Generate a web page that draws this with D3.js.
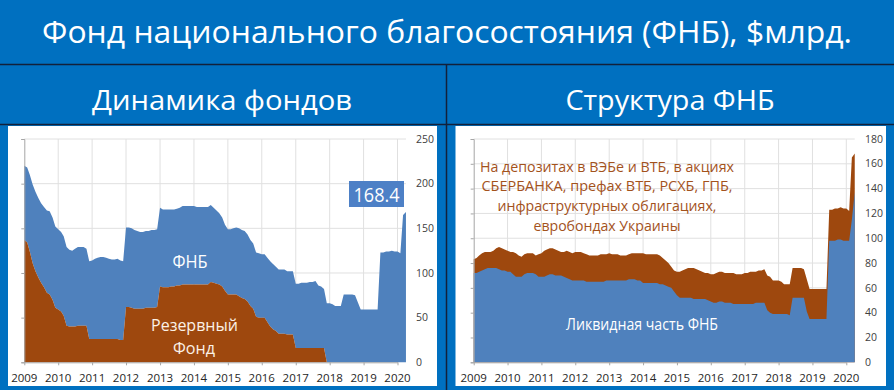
<!DOCTYPE html>
<html>
<head>
<meta charset="utf-8">
<script src="https://cdn.jsdelivr.net/npm/d3@7"></script>
<style>
  body { margin: 0; background: #0070c0; }
  svg text { font-family: "Open Sans", "Noto Sans", sans-serif; }
</style>
</head>
<body>
<svg id="chart" width="894" height="390"></svg>
<script>
// monthly values, Jan 2009 .. Apr 2020
const yearTicks = [2009, 2010, 2011, 2012, 2013, 2014, 2015, 2016, 2017, 2018, 2019, 2020];
const leftTicks = [0, 50, 100, 150, 200, 250];
const rightTicks = [0, 20, 40, 60, 80, 100, 120, 140, 160, 180];

// Фонд национального благосостояния, $ млрд
const nwf = [
  83, 84, 86, 88, 89, 89, 89, 90, 92, 93, 92, 91,
  90, 89, 89, 88, 86, 85, 87, 88, 88, 88, 86, 87,
  88, 90, 91, 92, 92, 91, 90, 89, 89, 90, 89, 88,
  89, 89, 89, 88, 87, 86, 86, 86, 86, 87, 87, 87,
  88, 87, 87, 87, 86, 86, 86, 87, 88, 88, 88, 88,
  88, 87, 87, 87, 87, 87, 86, 84, 82, 80, 77, 74,
  73, 73, 74, 75, 76, 76, 76, 75, 74, 73, 72, 72,
  71, 71, 72, 73, 73, 72, 72, 72, 72, 71, 71, 71,
  72, 72, 73, 73, 73, 74, 74, 75, 70, 69, 66, 66,
  66, 65, 63, 63, 63, 76, 76, 76, 76, 75, 67, 59,
  59, 59, 59, 59, 59, 59, 123, 123, 124, 124, 125, 124,
  124, 122, 165, 168.4
];

// ликвидная часть ФНБ
const liquid = [
  72, 72, 73, 74, 75, 76, 76, 76, 76, 75, 74, 74,
  73, 73, 71, 69, 69, 69, 71, 72, 72, 72, 71, 69,
  69, 69, 70, 71, 71, 70, 70, 70, 69, 68, 67, 66,
  66, 66, 66, 66, 65, 65, 65, 65, 65, 65, 65, 66,
  66, 66, 66, 66, 66, 66, 66, 67, 67, 67, 66, 66,
  64, 64, 64, 64, 64, 64, 63, 63, 62, 61, 60, 57,
  54, 52, 52, 52, 52, 52, 51, 51, 51, 51, 51, 50,
  49, 48, 48, 49, 49, 48, 48, 48, 47, 47, 47, 47,
  47, 47, 47, 47, 48, 48, 48, 48, 42, 40, 39, 39,
  39, 39, 39, 39, 38, 52, 52, 52, 52, 52, 41, 35,
  35, 35, 35, 35, 35, 35, 98, 98, 98, 99, 99, 98,
  98, 98, 115, 137
];

// Резервный фонд
const reserveFund = [
  137, 134, 124, 111, 102, 95, 89, 84, 78, 76, 70, 61,
  59, 57, 52, 41, 40, 40, 40, 41, 41, 41, 41, 26,
  26, 26, 26, 26, 26, 26, 26, 26, 26, 26, 25, 25,
  62, 62, 61, 60, 60, 60, 60, 61, 61, 61, 61, 62,
  85, 84, 84, 84, 85, 85, 86, 86, 87, 87, 87, 87,
  87, 87, 87, 87, 87, 87, 90, 89, 88, 87, 85, 80,
  76, 76, 76, 76, 74, 72, 71, 68, 63, 60, 51, 50,
  50, 50, 45, 40, 37, 35, 32, 32, 32, 31, 31, 31,
  16, 16, 16, 16, 16, 16, 16, 16, 16, 16, 16, 0,
  0, 0, 0, 0, 0, 0, 0, 0, 0, 0, 0, 0,
  0, 0, 0, 0, 0, 0, 0, 0, 0, 0, 0, 0,
  0, 0, 0, 0
];

const months = d3.timeMonth.range(new Date(2009, 0, 1), new Date(2020, 4, 1));
const rows = months.map((d, i) => ({
  date: d, rf: reserveFund[i], nwf: nwf[i], liquid: liquid[i]
}));

const BLUE = '#4f81bd';
const BROWN = '#9e480e';
const svg = d3.select('#chart');

// header
svg.append('rect').attr('width', 894).attr('height', 390).attr('fill', '#0070c0');
svg.append('text')
  .attr('x', 447).attr('y', 43)
  .attr('text-anchor', 'middle')
  .attr('fill', '#fff')
  .style('font-size', '31px')
  .attr('textLength', 810).attr('lengthAdjust', 'spacingAndGlyphs')
  .text('Фонд национального благосостояния (ФНБ), $млрд.');

svg.append('text')
  .attr('x', 222).attr('y', 110)
  .attr('text-anchor', 'middle').attr('fill', '#fff')
  .style('font-size', '28px')
  .attr('textLength', 260).attr('lengthAdjust', 'spacingAndGlyphs')
  .text('Динамика фондов');
svg.append('text')
  .attr('x', 670).attr('y', 110)
  .attr('text-anchor', 'middle').attr('fill', '#fff')
  .style('font-size', '28px')
  .attr('textLength', 209).attr('lengthAdjust', 'spacingAndGlyphs')
  .text('Структура ФНБ');

// panels
svg.append('rect').attr('x', 8).attr('y', 126).attr('width', 429).attr('height', 260).attr('fill', '#fff');
svg.append('rect').attr('x', 455.5).attr('y', 126).attr('width', 430.5).attr('height', 260).attr('fill', '#fff');

// separator lines
svg.append('line').attr('x1', 0).attr('x2', 894).attr('y1', 64.5).attr('y2', 64.5)
  .attr('stroke', '#13203a').attr('stroke-width', 1.5);
svg.append('line').attr('x1', 0).attr('x2', 894).attr('y1', 124.5).attr('y2', 124.5)
  .attr('stroke', '#13203a').attr('stroke-width', 1.5);
svg.append('line').attr('x1', 446.5).attr('x2', 446.5).attr('y1', 64.5).attr('y2', 390)
  .attr('stroke', '#13203a').attr('stroke-width', 1.5);

function makeFrame(g, x, y, ticks, labelX) {
  const [x0, x1] = [x(months[0]), x(months[months.length - 1])];
  const [y0, y1] = y.range();

  g.append('g').selectAll('line.h').data(ticks.slice(1)).enter()
    .append('line')
    .attr('x1', x0).attr('x2', x1)
    .attr('y1', d => y(d)).attr('y2', d => y(d))
    .attr('stroke', '#e0e0e0').attr('stroke-width', 1);
  g.append('g').selectAll('line.v').data(yearTicks.slice(1)).enter()
    .append('line')
    .attr('x1', d => x(new Date(d, 0, 1))).attr('x2', d => x(new Date(d, 0, 1)))
    .attr('y1', y1).attr('y2', y0)
    .attr('stroke', '#e0e0e0').attr('stroke-width', 1);

  g.append('g').selectAll('text').data(ticks).enter()
    .append('text')
    .attr('x', labelX).attr('y', d => y(d)).attr('dy', '0.35em')
    .attr('fill', '#404040').style('font-size', '10.5px')
    .text(d => d);

  g.append('g').selectAll('text').data(yearTicks).enter()
    .append('text')
    .attr('x', d => x(new Date(d, 0, 1))).attr('y', 382)
    .attr('text-anchor', 'middle')
    .attr('fill', '#262626').style('font-size', '11.5px')
    .text(d => d);
}

function drawAxes(g, x, y, ticks) {
  const x0 = x(months[0]);
  const [y0] = y.range();
  g.append('g')
    .attr('transform', `translate(${x0},0)`)
    .call(d3.axisLeft(y).tickValues(ticks).tickSize(3).tickFormat(''))
    .call(s => s.selectAll('path,line').attr('stroke', '#a6a6a6'));
  g.append('g')
    .attr('transform', `translate(0,${y0})`)
    .call(d3.axisBottom(x).tickValues(yearTicks.map(d => new Date(d, 0, 1)))
      .tickSize(3).tickSizeOuter(0).tickFormat(''))
    .call(s => s.selectAll('path,line').attr('stroke', '#a6a6a6'));
}

// ---------- left: Динамика фондов ----------
{
  const x = d3.scaleTime()
    .domain([new Date(2009, 0, 1), new Date(2020, 0, 1)])
    .range([24.3, 397.5]);
  const y = d3.scaleLinear().domain([0, 250]).range([362.3, 139]);
  const g = svg.append('g');
  makeFrame(g, x, y, leftTicks, 416);

  const stacked = d3.stack().keys(['rf', 'nwf'])(rows);
  const area = d3.area()
    .x(d => x(d.data.date))
    .y0(d => y(d[0]))
    .y1(d => y(d[1]));
  g.append('path').datum(stacked[1]).attr('d', area).attr('fill', BLUE);
  g.append('path').datum(stacked[0]).attr('d', area).attr('fill', BROWN);
  drawAxes(g, x, y, leftTicks);

  g.append('text').attr('x', 190).attr('y', 268).attr('text-anchor', 'middle')
    .attr('fill', '#fff').style('font-size', '18px')
    .attr('textLength', 35).attr('lengthAdjust', 'spacingAndGlyphs').text('ФНБ');
  g.append('text').attr('x', 194.5).attr('y', 331).attr('text-anchor', 'middle')
    .attr('fill', '#fbf1e6').style('font-size', '16.5px')
    .attr('textLength', 87).attr('lengthAdjust', 'spacingAndGlyphs').text('Резервный');
  g.append('text').attr('x', 194).attr('y', 354).attr('text-anchor', 'middle')
    .attr('fill', '#fbf1e6').style('font-size', '16.5px')
    .attr('textLength', 42).attr('lengthAdjust', 'spacingAndGlyphs').text('Фонд');

  const last = nwf[nwf.length - 1];
  g.append('rect').attr('x', 349).attr('y', 181).attr('width', 55).attr('height', 26)
    .attr('fill', '#4d80c6');
  g.append('text').attr('x', 376.5).attr('y', 201.5).attr('text-anchor', 'middle')
    .attr('fill', '#fff').style('font-size', '20px')
    .attr('textLength', 46).attr('lengthAdjust', 'spacingAndGlyphs')
    .text(d3.format('.1f')(last));
}

// ---------- right: Структура ФНБ ----------
{
  const x = d3.scaleTime()
    .domain([new Date(2009, 0, 1), new Date(2020, 0, 1)])
    .range([473.7, 846.3]);
  const y = d3.scaleLinear().domain([0, 180]).range([362.3, 139]);
  const g = svg.append('g');
  makeFrame(g, x, y, rightTicks, 865);

  const totalArea = d3.area().x(d => x(d.date)).y0(y(0)).y1(d => y(d.nwf));
  const liquidArea = d3.area().x(d => x(d.date)).y0(y(0)).y1(d => y(d.liquid));
  g.append('path').datum(rows).attr('d', totalArea).attr('fill', BROWN);
  g.append('path').datum(rows).attr('d', liquidArea).attr('fill', BLUE);
  drawAxes(g, x, y, rightTicks);

  const note = [
    ['На депозитах в ВЭБе и ВТБ, в акциях', 254],
    ['СБЕРБАНКА, префах ВТБ, РСХБ, ГПБ,', 251],
    ['инфраструктурных облигациях,', 219],
    ['евробондах Украины', 147]
  ];
  g.append('g').selectAll('text').data(note).enter()
    .append('text')
    .attr('x', 607).attr('y', (d, i) => 171.5 + i * 19.7)
    .attr('text-anchor', 'middle')
    .attr('fill', '#a3521c').style('font-size', '14.2px')
    .attr('textLength', d => d[1]).attr('lengthAdjust', 'spacingAndGlyphs')
    .text(d => d[0]);

  g.append('text').attr('x', 642).attr('y', 329.5).attr('text-anchor', 'middle')
    .attr('fill', '#fff').style('font-size', '16px')
    .attr('textLength', 152).attr('lengthAdjust', 'spacingAndGlyphs')
    .text('Ликвидная часть ФНБ');
}
</script>
</body>
</html>
